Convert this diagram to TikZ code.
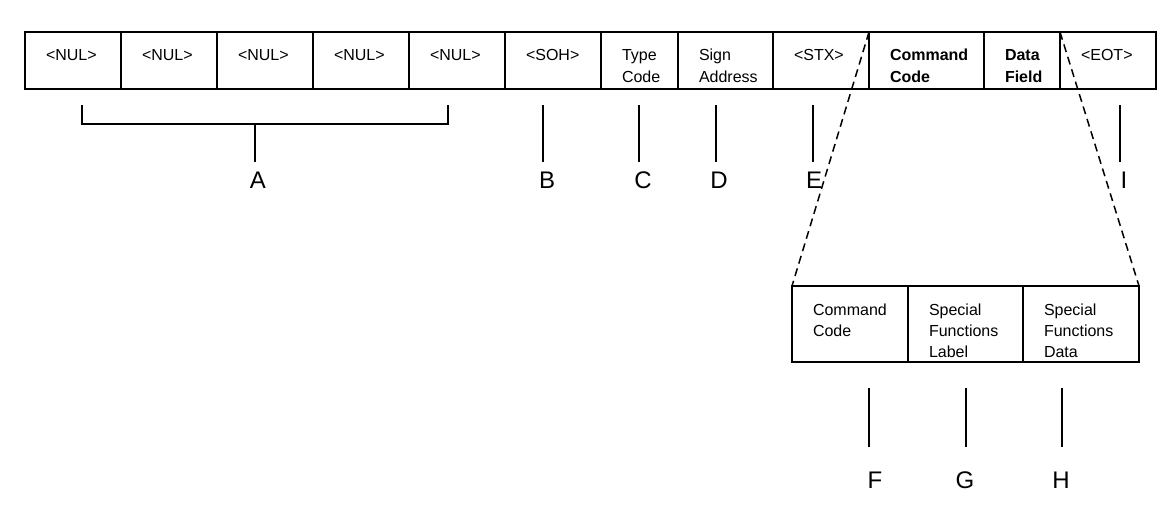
\documentclass[tikz,border=0pt]{standalone}
\usepackage{fontspec}
\setmainfont{Liberation Sans}

\tikzset{
    field/.style={draw, line width=1.8pt, anchor=north west, outer sep=0pt, inner xsep=21pt, inner ysep=0pt, align=left, font=\fontsize{16}{22}\selectfont, text height=28.5pt, text depth=28.5pt},
    subfield/.style={field, font=\fontsize{16}{21}\selectfont, text height=29pt, text depth=47pt},
    letter/.style={font=\fontsize{24}{28}\selectfont, inner sep=0pt, outer sep=9pt, anchor=base},
    subletter/.style={letter, outer sep=24pt},
    tick/.style={line width=1.5pt},
    zoomline/.style={line width=1.5pt, dash pattern=on 8pt off 5pt}
}

\begin{document}
\begin{tikzpicture}[x=1pt, y=-1pt]
    \useasboundingbox (0,0) rectangle (1176,511);

    \node[field, text width=54pt] (nulA) at (25,32) {<NUL>};
    \node[field, text width=54pt] (nulB) at (121,32) {<NUL>};
    \node[field, text width=54pt] (nulC) at (217,32) {<NUL>};
    \node[field, text width=54pt] (nulD) at (313,32) {<NUL>};
    \node[field, text width=54pt] (nulE) at (409,32) {<NUL>};
    \node[field, text width=54pt] (soh) at (505,32) {<SOH>};
    \node[field, text width=35pt] (typecode) at (601,32) {Type\\Code};
    \node[field, text width=53pt] (signaddr) at (678,32) {Sign\\Address};
    \node[field, text width=54pt] (stx) at (773,32) {<STX>};
    \node[field, text width=73pt, font=\fontsize{16}{22}\selectfont\bfseries] (cmdcode) at (869,32) {Command\\Code};
    \node[field, text width=34pt, font=\fontsize{16}{22}\selectfont\bfseries] (datafield) at (984,32) {Data\\Field};
    \node[field, text width=54pt] (eot) at (1060,32) {<EOT>};

    \node[subfield, text width=74pt] (subcmd) at (792,286) {Command\\Code};
    \node[subfield, text width=73pt] (sflabel) at (908,286) {Special\\Functions\\Label};
    \node[subfield, text width=74pt] (sfdata) at (1023,286) {Special\\Functions\\Data};

    \draw[zoomline] (cmdcode.north west) -- (subcmd.north west);
    \draw[zoomline] (datafield.north east) -- (sfdata.north east);

    \node[letter] (labA) at (258,188) {A};
    \node[letter] (labB) at (547,188) {B};
    \node[letter] (labC) at (643,188) {C};
    \node[letter] (labD) at (719,188) {D};
    \node[letter] (labE) at (814,188) {E};
    \node[letter] (labI) at (1124,188) {I};
    \node[subletter] (labF) at (875,488) {F};
    \node[subletter] (labG) at (965,488) {G};
    \node[subletter] (labH) at (1061,488) {H};

    \coordinate (brL) at (82,105);
    \coordinate (brR) at (448,105);
    \coordinate (brC) at (255,124);
    \coordinate (tickB) at (543,105);
    \coordinate (tickC) at (639,105);
    \coordinate (tickD) at (716,105);
    \coordinate (tickE) at (813,105);
    \coordinate (tickI) at (1120,105);
    \coordinate (tickF) at (869,388);
    \coordinate (tickG) at (966,388);
    \coordinate (tickH) at (1062,388);

    \draw[tick] (brL) |- (brC) -| (brR);
    \draw[tick] (brC) -- (brC |- labA.north);
    \draw[tick] (tickB) -- (tickB |- labB.north);
    \draw[tick] (tickC) -- (tickC |- labC.north);
    \draw[tick] (tickD) -- (tickD |- labD.north);
    \draw[tick] (tickE) -- (tickE |- labE.north);
    \draw[tick] (tickI) -- (tickI |- labI.north);
    \draw[tick] (tickF) -- (tickF |- labF.north);
    \draw[tick] (tickG) -- (tickG |- labG.north);
    \draw[tick] (tickH) -- (tickH |- labH.north);
\end{tikzpicture}
\end{document}
